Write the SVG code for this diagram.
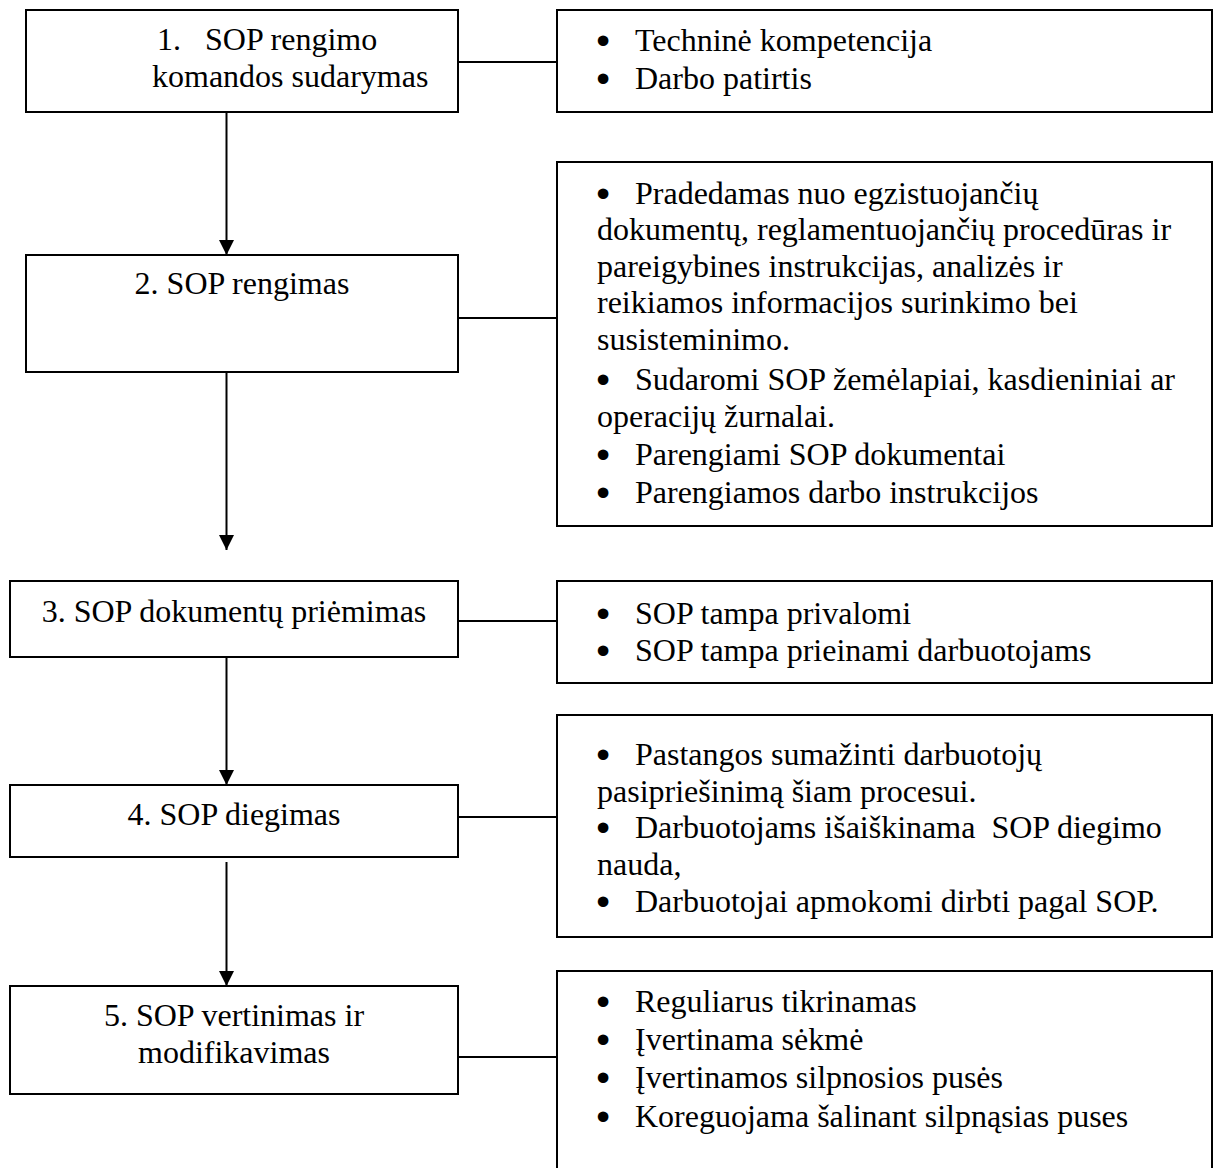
<svg xmlns="http://www.w3.org/2000/svg" width="1214" height="1168" viewBox="0 0 1214 1168">
  <style>
    .box { fill: #fff; stroke: #000; stroke-width: 2; }
    .link { stroke: #000; stroke-width: 2; fill: none; }
    text { font-family: "Liberation Serif", "Times New Roman", serif; font-size: 32px; fill: #000; white-space: pre; }
    .c { text-anchor: middle; }
    .b { stroke: #000; stroke-width: 3; stroke-linejoin: round; }
  </style>
  <defs>
    <marker id="arrow" markerUnits="userSpaceOnUse" markerWidth="16" markerHeight="16" refX="15" refY="7.5" orient="auto">
      <path d="M0,0 L15,7.5 L0,15 Z" fill="#000"/>
    </marker>
  </defs>

  <!-- connectors -->
  <g id="connectors">
    <line class="link" x1="458" y1="62" x2="557" y2="62"/>
    <line class="link" x1="458" y1="318" x2="557" y2="318"/>
    <line class="link" x1="458" y1="621" x2="557" y2="621"/>
    <line class="link" x1="458" y1="817" x2="557" y2="817"/>
    <line class="link" x1="458" y1="1057" x2="557" y2="1057"/>
    <line class="link" x1="226.5" y1="112" x2="226.5" y2="255" marker-end="url(#arrow)"/>
    <line class="link" x1="226.5" y1="372" x2="226.5" y2="550" marker-end="url(#arrow)"/>
    <line class="link" x1="226.5" y1="657" x2="226.5" y2="785" marker-end="url(#arrow)"/>
    <line class="link" x1="226.5" y1="862" x2="226.5" y2="986" marker-end="url(#arrow)"/>
  </g>

  <!-- process steps -->
  <g id="step1">
    <rect class="box" x="26" y="10" width="432" height="102"/>
    <text x="157" y="50">1.   SOP rengimo</text>
    <text x="152" y="87">komandos sudarymas</text>
  </g>
  <g id="step2">
    <rect class="box" x="26" y="255" width="432" height="117"/>
    <text class="c" x="242" y="294">2. SOP rengimas</text>
  </g>
  <g id="step3">
    <rect class="box" x="10" y="581" width="448" height="76"/>
    <text class="c" x="234" y="622">3. SOP dokumentų priėmimas</text>
  </g>
  <g id="step4">
    <rect class="box" x="10" y="785" width="448" height="72"/>
    <text class="c" x="234" y="825">4. SOP diegimas</text>
  </g>
  <g id="step5">
    <rect class="box" x="10" y="986" width="448" height="108"/>
    <text class="c" x="234" y="1026">5. SOP vertinimas ir</text>
    <text class="c" x="234" y="1063">modifikavimas</text>
  </g>

  <!-- detail boxes -->
  <g id="detail1">
    <rect class="box" x="557" y="10" width="655" height="102"/>
    <text class="b" x="597.5" y="52">•</text><text x="635" y="51">Techninė kompetencija</text>
    <text class="b" x="597.5" y="90">•</text><text x="635" y="89">Darbo patirtis</text>
  </g>
  <g id="detail2">
    <rect class="box" x="557" y="162" width="655" height="364"/>
    <text class="b" x="597.5" y="205">•</text><text x="635" y="204">Pradedamas nuo egzistuojančių</text>
    <text x="597" y="240">dokumentų, reglamentuojančių procedūras ir</text>
    <text x="597" y="277">pareigybines instrukcijas, analizės ir</text>
    <text x="597" y="313">reikiamos informacijos surinkimo bei</text>
    <text x="597" y="350">susisteminimo.</text>
    <text class="b" x="597.5" y="391">•</text><text x="635" y="390">Sudaromi SOP žemėlapiai, kasdieniniai ar</text>
    <text x="597" y="427">operacijų žurnalai.</text>
    <text class="b" x="597.5" y="466">•</text><text x="635" y="465">Parengiami SOP dokumentai</text>
    <text class="b" x="597.5" y="504">•</text><text x="635" y="503">Parengiamos darbo instrukcijos</text>
  </g>
  <g id="detail3">
    <rect class="box" x="557" y="581" width="655" height="102"/>
    <text class="b" x="597.5" y="625">•</text><text x="635" y="624">SOP tampa privalomi</text>
    <text class="b" x="597.5" y="662">•</text><text x="635" y="661">SOP tampa prieinami darbuotojams</text>
  </g>
  <g id="detail4">
    <rect class="box" x="557" y="715" width="655" height="222"/>
    <text class="b" x="597.5" y="766">•</text><text x="635" y="765">Pastangos sumažinti darbuotojų</text>
    <text x="597" y="802">pasipriešinimą šiam procesui.</text>
    <text class="b" x="597.5" y="839">•</text><text x="635" y="838">Darbuotojams išaiškinama  SOP diegimo</text>
    <text x="597" y="875">nauda,</text>
    <text class="b" x="597.5" y="913">•</text><text x="635" y="912">Darbuotojai apmokomi dirbti pagal SOP.</text>
  </g>
  <g id="detail5">
    <rect class="box" x="557" y="971" width="655" height="220"/>
    <text class="b" x="597.5" y="1013">•</text><text x="635" y="1012">Reguliarus tikrinamas</text>
    <text class="b" x="597.5" y="1051">•</text><text x="635" y="1050">Įvertinama sėkmė</text>
    <text class="b" x="597.5" y="1089">•</text><text x="635" y="1088">Įvertinamos silpnosios pusės</text>
    <text class="b" x="597.5" y="1128">•</text><text x="635" y="1127">Koreguojama šalinant silpnąsias puses</text>
  </g>
</svg>
